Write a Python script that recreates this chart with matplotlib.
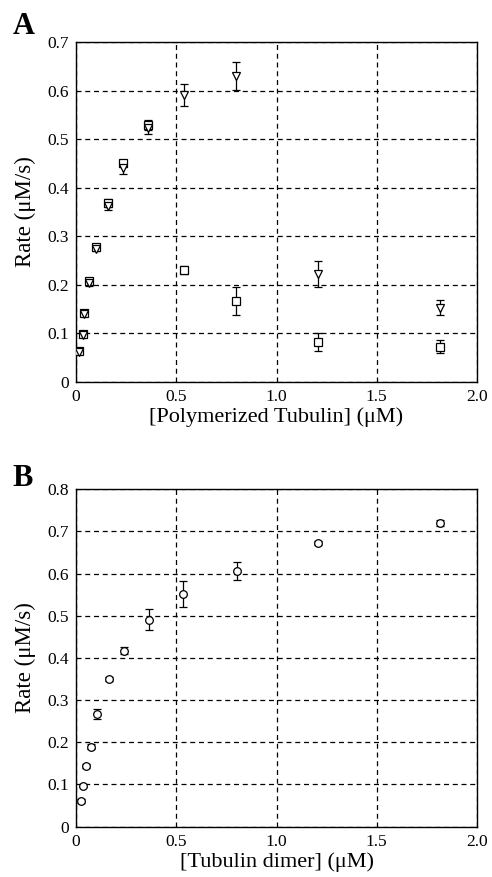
import matplotlib
matplotlib.use("Agg")
import matplotlib.pyplot as plt

plt.rcParams['font.family'] = ['Liberation Serif', 'DejaVu Serif']

# Painel A - tubulina polimerizada
conc_a = [0.016, 0.033, 0.042, 0.066, 0.101, 0.158, 0.236, 0.358, 0.54, 0.80, 1.205, 1.815]
taxa_quad = [0.064, 0.099, 0.143, 0.207, 0.277, 0.369, 0.450, 0.529, 0.231, 0.167, 0.082, 0.073]
erro_quad = [0.004, 0.004, 0.005, 0.005, 0.005, 0.008, 0.008, 0.010, 0.008, 0.028, 0.018, 0.014]
taxa_tri = [0.062, 0.097, 0.140, 0.203, 0.274, 0.362, 0.440, 0.522, 0.591, 0.630, 0.222, 0.153]
erro_tri = [0.004, 0.004, 0.005, 0.005, 0.005, 0.008, 0.012, 0.012, 0.022, 0.028, 0.027, 0.016]

# Painel B - dimero de tubulina
conc_b = [0.023, 0.036, 0.048, 0.075, 0.106, 0.163, 0.241, 0.364, 0.535, 0.801, 1.207, 1.815]
taxa_circ = [0.061, 0.097, 0.144, 0.190, 0.267, 0.350, 0.417, 0.491, 0.551, 0.606, 0.672, 0.719]
erro_circ = [0.004, 0.004, 0.005, 0.005, 0.011, 0.005, 0.008, 0.025, 0.031, 0.022, 0.005, 0.007]

xticks = [0, 0.5, 1.0, 1.5, 2.0]
xtick_labels = ["0", "0.5", "1.0", "1.5", "2.0"]

fig = plt.figure(figsize=(4.92, 8.77), dpi=100)
ax_a = fig.add_axes([0.1545, 0.5644, 0.815, 0.3877])
ax_b = fig.add_axes([0.1545, 0.0574, 0.815, 0.3847])


def estilo(ax, ymax, xlabel):
    ax.set_xlim(0, 2.0)
    ax.set_ylim(0, ymax)
    ax.set_xticks(xticks)
    ax.set_xticklabels(xtick_labels)
    yt = [i / 10 for i in range(int(round(ymax * 10)) + 1)]
    ax.set_yticks(yt)
    ax.set_yticklabels(["0"] + [f"{v:.1f}" for v in yt[1:]])
    ax.grid(True, linestyle=(0, (4, 3)), color='black', linewidth=0.9)
    ax.tick_params(length=0, labelsize=12.5, pad=5)
    for s in ax.spines.values():
        s.set_linewidth(1.0)
    ax.set_xlabel(xlabel, fontsize=16, labelpad=2)
    ax.set_ylabel("Rate (μM/s)", fontsize=16.5, labelpad=8)


ax_a.errorbar(conc_a, taxa_quad, yerr=erro_quad, fmt='s', mfc='white', mec='black',
              ms=5.5, mew=0.9, ecolor='black', elinewidth=0.9, capsize=2.8, zorder=3)
ax_a.errorbar(conc_a, taxa_tri, yerr=erro_tri, fmt='v', mfc='white', mec='black',
              ms=6, mew=0.9, ecolor='black', elinewidth=0.9, capsize=2.8, zorder=3)
estilo(ax_a, 0.7, "[Polymerized Tubulin] (μM)")

ax_b.errorbar(conc_b, taxa_circ, yerr=erro_circ, fmt='o', mfc='white', mec='black',
              ms=5.5, mew=0.9, ecolor='black', elinewidth=0.9, capsize=2.8, zorder=3)
estilo(ax_b, 0.8, "[Tubulin dimer] (μM)")

fig.text(0.025, 0.970, "A", fontsize=22, fontweight='bold', va='center')
fig.text(0.025, 0.454, "B", fontsize=22, fontweight='bold', va='center')

fig.savefig("out.png", dpi=100)
